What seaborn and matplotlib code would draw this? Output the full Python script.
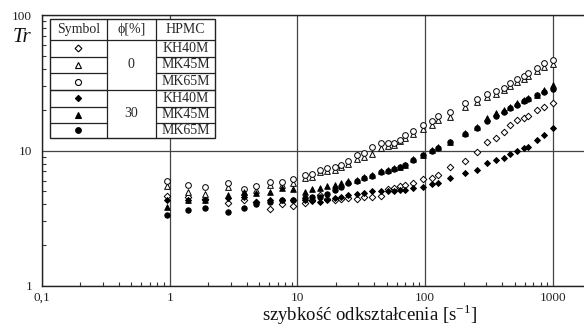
import numpy as np
import pandas as pd
import matplotlib
matplotlib.use('Agg')
import matplotlib.pyplot as plt
import seaborn as sns
from matplotlib.patches import Rectangle
from matplotlib.lines import Line2D
from matplotlib.ticker import LogLocator, NullFormatter

# shear rate [1/s]
rate = [0.95, 1.4, 1.9, 2.85, 3.8, 4.7, 6.1, 7.5, 9.3, 11.4, 13, 15, 17, 19.5, 22, 25,
        29, 33, 38, 45, 51, 57, 64, 70, 80, 96, 113, 127, 155, 206, 254, 304, 361,
        412, 464, 524, 590, 640, 752, 846, 1000]

# phi = 0 %
kh40_0 = [4.6, 4.5, 4.4, 4.07, 4.3, 4.2, 3.7, 4.0, 3.9, 4.1, 4.3, 4.7, 4.4, 4.3, 4.4, 4.45,
          4.4, 4.5, 4.55, 4.6, 5.2, 5.3, 5.45, 5.55, 5.8, 6.2, 6.3, 6.6, 7.5, 8.3, 9.8, 11.6,
          12.4, 13.8, 15.3, 16.8, 17.4, 18.0, 19.8, 20.8, 22.3]
mk45_0 = [5.5, 4.9, 4.8, 5.4, 4.9, 5.1, 5.6, 5.6, 5.8, 6.3, 6.4, 6.9, 7.0, 7.2, 7.5, 7.9,
          8.6, 8.9, 9.5, 10.4, 10.8, 11.0, 11.8, 12.4, 13.3, 14.3, 15.5, 16.8, 17.8, 20.8,
          22.8, 24.8, 26.3, 27.8, 29.8, 31.8, 33.8, 35.5, 38.5, 41.5, 43.5]
mk65_0 = [6.0, 5.56, 5.4, 5.75, 5.2, 5.5, 5.9, 5.9, 6.2, 6.6, 6.7, 7.2, 7.4, 7.5, 7.8, 8.3,
          9.3, 9.6, 10.6, 11.3, 11.4, 11.4, 12.0, 13.0, 13.9, 15.5, 16.6, 17.9, 19.3, 22.3,
          24.0, 26.0, 27.5, 29.0, 31.5, 33.5, 35.5, 37.5, 40.5, 44.0, 46.5]

# phi = 30 %
kh40_30 = [4.3, 4.3, 4.3, 4.43, 4.56, 4.18, 4.3, 4.3, 4.3, 4.3, 4.25, 4.18, 4.3, 4.43, 4.55,
           4.69, 4.75, 4.83, 5.05, 5.0, 5.05, 5.05, 5.1, 5.11, 5.26, 5.41, 5.66, 5.79, 6.24,
           6.86, 7.18, 8.05, 8.5, 8.75, 9.5, 10.0, 10.4, 10.7, 11.9, 13.0, 14.6]
mk45_30 = [3.85, 4.3, 4.3, 4.7, 4.97, 4.85, 4.97, 5.26, 5.17, 4.97, 5.2, 5.3, 5.5, 5.6, 5.8,
           6.0, 6.1, 6.4, 6.6, 7.0, 7.18, 7.4, 7.6, 7.8, 8.6, 9.3, 10.1, 10.7, 11.6, 13.4,
           14.8, 17.3, 18.8, 20.0, 21.0, 22.3, 23.6, 24.5, 25.7, 28.0, 30.4]
mk65_30 = [3.34, 3.64, 3.76, 3.5, 3.74, 4.0, 4.18, 4.3, 4.3, 4.43, 4.5, 4.56, 4.8, 5.1, 5.4,
           5.72, 6.0, 6.3, 6.5, 6.9, 7.1, 7.3, 7.5, 7.8, 8.5, 9.2, 10.0, 10.5, 11.5, 13.2,
           14.6, 16.6, 18.0, 19.4, 20.5, 21.8, 23.0, 24.0, 25.5, 27.0, 28.5]

series_names = ['KH40M 0', 'MK45M 0', 'MK65M 0', 'KH40M 30', 'MK45M 30', 'MK65M 30']
series_vals = [kh40_0, mk45_0, mk65_0, kh40_30, mk45_30, mk65_30]
hpmc = ['KH40M', 'MK45M', 'MK65M']
phi = ['0', '30']

xticks = [0.1, 1, 10, 100, 1000]
xticklabels = ['0,1', '1', '10', '100', '1000']
yticks = [1, 10, 100]
yticklabels = ['1', '10', '100']

df = pd.concat([pd.DataFrame({'rate': rate, 'Tr': v, 'series': n})
                for n, v in zip(series_names, series_vals)], ignore_index=True)

sns.set_style('white')
plt.rcParams['font.family'] = ['Liberation Serif', 'DejaVu Serif']
plt.rcParams['mathtext.fontset'] = 'custom'
plt.rcParams['mathtext.rm'] = 'Liberation Serif'

W, H = 584, 327
fig = plt.figure(figsize=(W / 100, H / 100), dpi=100)
ax = fig.add_axes([42 / W, 1 - 286 / H, 1 - 42 / W, (286 - 15) / H])

styles = {
    'KH40M 0': ('D', 'white', 11),
    'MK45M 0': ('^', 'white', 17),
    'MK65M 0': ('o', 'white', 17),
    'KH40M 30': ('D', 'black', 9),
    'MK45M 30': ('^', 'black', 16),
    'MK65M 30': ('o', 'black', 15),
}
for name in series_names:
    m, fc, s = styles[name]
    sns.scatterplot(data=df[df.series == name], x='rate', y='Tr', marker=m, s=s,
                    color=fc, edgecolor='black', linewidth=0.7, ax=ax,
                    legend=False, zorder=3)

ax.set_xscale('log')
ax.set_yscale('log')
ax.set_xlim(0.1, 1750)
ax.set_ylim(1, 100)
ax.set_xticks(xticks)
ax.set_xticklabels(xticklabels)
ax.set_yticks(yticks)
ax.set_yticklabels(yticklabels)
ax.xaxis.set_minor_locator(LogLocator(base=10, subs=np.arange(2, 10), numticks=20))
ax.yaxis.set_minor_locator(LogLocator(base=10, subs=np.arange(2, 10), numticks=20))
ax.xaxis.set_minor_formatter(NullFormatter())
ax.yaxis.set_minor_formatter(NullFormatter())
ax.tick_params(which='major', length=0, labelsize=9.5, colors='#222')
ax.tick_params(axis='x', which='major', pad=4)
ax.tick_params(axis='y', which='major', pad=7)
ax.tick_params(which='minor', direction='in', length=3, width=0.8, color='#333',
               bottom=True, left=True, top=False, right=False)
ax.grid(True, which='major', color='#444', lw=0.9)
ax.set_xlabel('')
ax.set_ylabel('')
for side in ['left', 'bottom', 'top']:
    ax.spines[side].set_color('#222')
    ax.spines[side].set_linewidth(1.0)
ax.spines['right'].set_visible(False)

fig.text(370 / W, 1 - 315 / H, 'szybkość odkształcenia [s$^{\\mathregular{-1}}$]',
         ha='center', va='center', fontsize=13.5, color='#111')
fig.text(22 / W, 1 - 38 / H, 'Tr', style='italic', ha='center', va='center',
         fontsize=15, color='#111')


# legend table drawn in pixel positions
def fx(x):
    return x / W


def fy(y):
    return 1 - y / H


L, C1, C2, R = 50, 106.7, 156, 215
T, HB = 19.3, 40
rows = [40, 56.6, 73.2, 90, 106.6, 123.2, 137.5]
fig.add_artist(Rectangle((fx(L), fy(rows[-1])), fx(R) - fx(L), fy(T) - fy(rows[-1]),
                         transform=fig.transFigure, facecolor='white', edgecolor='#222',
                         lw=1.0, zorder=5))


def hline(x0, x1, y, lw=0.9):
    fig.add_artist(Line2D([fx(x0), fx(x1)], [fy(y), fy(y)], color='#222', lw=lw,
                          transform=fig.transFigure, zorder=6))


def vline(x, y0, y1, lw=0.9):
    fig.add_artist(Line2D([fx(x), fx(x)], [fy(y0), fy(y1)], color='#222', lw=lw,
                          transform=fig.transFigure, zorder=6))


vline(C1, T, rows[-1])
vline(C2, T, rows[-1])
hline(L, R, HB)
hline(L, R, rows[3])
for r in rows[1:-1]:
    hline(L, C1, r)
    hline(C2, R, r)

fs = 10
fig.text(fx((L + C1) / 2), fy((T + HB) / 2), 'Symbol', ha='center', va='center',
         fontsize=fs, zorder=7)
fig.text(fx((C1 + C2) / 2), fy((T + HB) / 2), 'ϕ[%]', ha='center', va='center',
         fontsize=fs, zorder=7)
fig.text(fx((C2 + R) / 2), fy((T + HB) / 2), 'HPMC', ha='center', va='center',
         fontsize=fs, zorder=7)
fig.text(fx((C1 + C2) / 2), fy((rows[0] + rows[3]) / 2), phi[0], ha='center',
         va='center', fontsize=fs, zorder=7)
fig.text(fx((C1 + C2) / 2), fy((rows[3] + rows[6]) / 2), phi[1], ha='center',
         va='center', fontsize=fs, zorder=7)
for i, name in enumerate(series_names):
    yc = (rows[i] + rows[i + 1]) / 2
    fig.text(fx((C2 + R) / 2), fy(yc), hpmc[i % 3], ha='center', va='center',
             fontsize=fs, zorder=7)
    m, fc, s = styles[name]
    fig.add_artist(Line2D([fx((L + C1) / 2)], [fy(yc)], marker=m, markersize=np.sqrt(s) * 1.05,
                          markerfacecolor=fc, markeredgecolor='black', markeredgewidth=0.8,
                          linestyle='none', transform=fig.transFigure, zorder=7))

fig.savefig('out.png', dpi=100)
